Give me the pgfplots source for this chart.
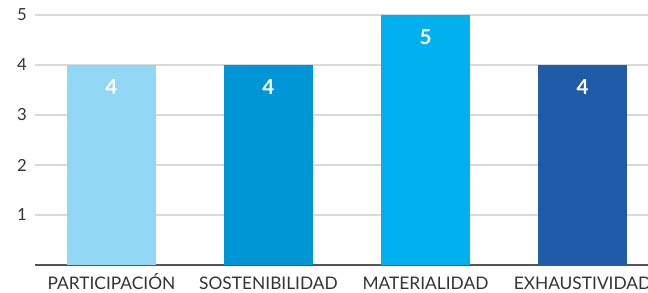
\documentclass[border=0pt]{standalone}
\usepackage{pgfplots}
\pgfplotsset{compat=1.18}
\usepackage{fontspec}
\setmainfont{Lato}
\definecolor{c1}{HTML}{92D7F4}
\definecolor{c2}{HTML}{0096D6}
\definecolor{c3}{HTML}{00B0EF}
\definecolor{c4}{HTML}{1F5BA6}
\definecolor{gridc}{HTML}{D9D9D9}
\definecolor{basec}{HTML}{555555}
\definecolor{txt}{HTML}{333333}
\begin{document}
\begin{tikzpicture}
\begin{axis}[
  scale only axis,
  width=459.75pt, height=187.5pt,
  xmin=-0.487, xmax=3.417,
  ymin=0, ymax=5,
  /pgf/number format/assume math mode=true,
  axis line style={draw=none},
  major tick length=0pt,
  xtick={0,1,2,3},
  xticklabels={PARTICIPACIÓN,SOSTENIBILIDAD,MATERIALIDAD,EXHAUSTIVIDAD},
  ytick={1,2,3,4,5},
  yticklabels={1,2,3,4,5},
  ymajorgrids,
  grid style={draw=gridc, line width=1.2pt},
  extra y ticks={0},
  extra y tick labels={},
  extra y tick style={grid style={draw=basec, line width=1.5pt}},
  yticklabel style={font=\fontsize{12.5}{14}\selectfont, text=txt, anchor=east, inner sep=0pt, xshift=-6pt},
  xticklabel style={font=\fontsize{13}{15}\selectfont, text=txt, anchor=base, inner sep=0pt, yshift=-18.5pt},
  ybar, bar width=66.75pt, bar shift=0pt,
  clip=false,
  nodes near coords,
  every node near coord/.append style={anchor=center, yshift=-16.5pt, text=white, font=\fontsize{15.5}{17}\selectfont\bfseries},
]
\addplot[fill=c1, draw=none] coordinates {(0,4)};
\addplot[fill=c2, draw=none] coordinates {(1,4)};
\addplot[fill=c3, draw=none] coordinates {(2,5)};
\addplot[fill=c4, draw=none] coordinates {(3,4)};
\end{axis}
\pgfresetboundingbox
\useasboundingbox (-26.25pt,-20.25pt) rectangle (459.75pt,198.75pt);
\end{tikzpicture}
\end{document}
